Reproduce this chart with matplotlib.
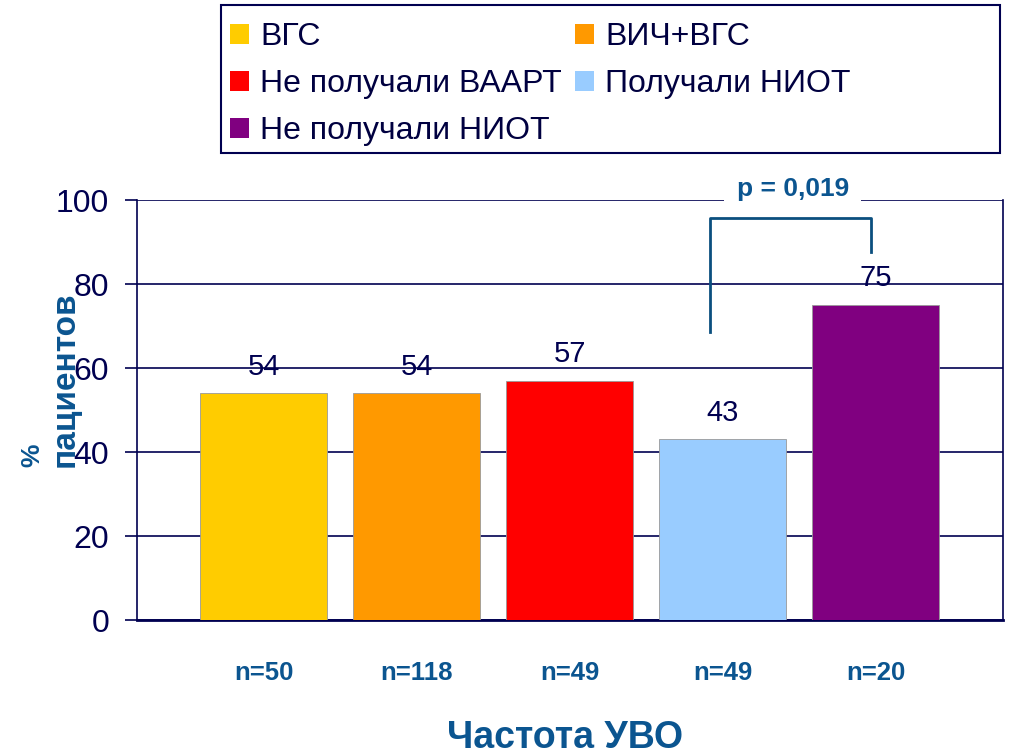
import matplotlib
matplotlib.use('Agg')
import matplotlib.pyplot as plt
from matplotlib.patches import Patch, Rectangle

plt.rcParams['font.family'] = ['Liberation Sans', 'DejaVu Sans']
NARROW = ['Liberation Sans Narrow', 'Liberation Sans', 'DejaVu Sans']

groups = ['ВГС', 'ВИЧ+ВГС', 'Не получали ВААРТ', 'Получали НИОТ', 'Не получали НИОТ']
values = [54, 54, 57, 43, 75]
n_labels = ['n=50', 'n=118', 'n=49', 'n=49', 'n=20']
colors = ['#FFCC00', '#FF9900', '#FF0000', '#99CCFF', '#800080']
p_text = 'p = 0,019'

NAVY = '#000050'
BLUE = '#0B5590'

fig = plt.figure(figsize=(10.23, 7.54), dpi=100)
ax = fig.add_axes([137/1023, 1 - 620/754, 866/1023, 420/754])

x = list(range(len(values)))
bars = ax.bar(x, values, width=0.83, color=colors, edgecolor='#999999', linewidth=0.6, zorder=3)
for xi, v in zip(x, values):
    ax.text(xi, v + 3, str(v), ha='center', va='bottom', fontsize=21, color=NAVY, zorder=4)

ax.set_xlim(-0.827, 4.833)
ax.set_ylim(0, 100)
ax.set_yticks([0, 20, 40, 60, 80, 100])
ax.tick_params(axis='y', labelsize=23, colors=NAVY, length=9, width=1.2, pad=11)
ax.tick_params(axis='x', bottom=False, labelbottom=False)
ax.yaxis.grid(True, color=NAVY, linewidth=1.2, zorder=1)
ax.set_axisbelow(True)
for s in ['left', 'right', 'bottom']:
    ax.spines[s].set_color(NAVY)
    ax.spines[s].set_linewidth(1.2)
ax.spines['bottom'].set_linewidth(2)
ax.spines['top'].set_visible(False)

# n labels below bars
for xi, lab in zip(x, n_labels):
    ax.text(xi, -12.5, lab, ha='center', va='center', fontsize=18.5, fontweight='bold',
            color=BLUE, family=NARROW, clip_on=False)

fig.text(565/1023, 1 - 738/754, 'Частота УВО', ha='center', va='center', fontsize=27,
         fontweight='bold', color=BLUE, family=NARROW)

# y label (two lines)
fig.text(32/1023, 1 - 467/754, '%', rotation=90, ha='center', va='bottom', fontsize=19,
         fontweight='bold', color=BLUE)
fig.text(65/1023, 1 - 467/754, 'пациентов', rotation=90, ha='center', va='bottom', fontsize=24,
         fontweight='bold', color=BLUE, family=NARROW)

# significance bracket
ax.plot([2.915, 2.915, 3.97, 3.97], [68.6, 95.7, 95.7, 87.6], color='#0B4F7F',
        linewidth=2, clip_on=False, zorder=5)
ax.text(3.46, 102.7, p_text, ha='center', va='center', fontsize=19, fontweight='bold',
        color=BLUE, zorder=6, clip_on=False,
        bbox=dict(facecolor='white', edgecolor='none', pad=9))

# legend
handles = [Patch(facecolor=c, edgecolor='none') for c in colors]
order = [0, 2, 4, 1, 3]
leg = fig.legend([handles[i] for i in order], [groups[i] for i in order], ncol=2,
                 loc='upper left', bbox_to_anchor=(230/1023, 1 - 22/754), fontsize=23,
                 frameon=False, borderpad=0, handlelength=0.6, handleheight=0.6,
                 handletextpad=0.35, columnspacing=0.4, labelspacing=0.54, borderaxespad=0)
for t in leg.get_texts():
    t.set_color('#000040')
fig.patches.append(Rectangle((221/1023, 1 - 153/754), 779/1023, 148/754,
                             transform=fig.transFigure, facecolor='none',
                             edgecolor=NAVY, linewidth=1.5))

fig.savefig('out.png', dpi=100, facecolor='white')
